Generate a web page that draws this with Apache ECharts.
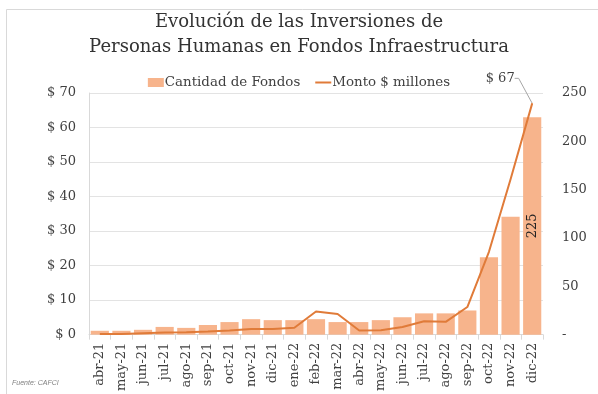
<!DOCTYPE html>
<html>
<head>
<meta charset="utf-8">
<script src="https://cdn.jsdelivr.net/npm/echarts@6/dist/echarts.min.js"></script>
<style>
  html, body { margin: 0; padding: 0; background: #fff; }
  #chart { width: 598px; height: 394px; }
</style>
</head>
<body>
<div id="chart"></div>
<script>
// Months covered
const months = ['abr-21','may-21','jun-21','jul-21','ago-21','sep-21','oct-21','nov-21','dic-21',
  'ene-22','feb-22','mar-22','abr-22','may-22','jun-22','jul-22','ago-22','sep-22','oct-22','nov-22','dic-22'];

// Number of funds (right axis)
const cantidadFondos = [4, 4, 5, 8, 7, 10, 13, 16, 15, 15, 16, 13, 13, 15, 18, 22, 22, 25, 80, 122, 225];

// Amount invested, $ millions (left axis)
const montoMillones = [0.2, 0.2, 0.4, 0.6, 0.7, 0.9, 1.2, 1.6, 1.6, 2.0, 6.7, 6.0, 1.2, 1.3, 2.2, 3.9, 3.7, 8.0, 24, 45, 67];

// Axis ticks
const leftTicks = { min: 0, max: 70, interval: 10 };
const rightTicks = { min: 0, max: 250, interval: 50 };

const serif = 'DejaVu Serif';
const textColor = '#404040';
const lineColor = '#E07B39';
const lastIdx = months.length - 1;

const chart = echarts.init(document.getElementById('chart'), null, { renderer: 'canvas' });

chart.setOption({
  animation: false,
  backgroundColor: '#fff',
  title: {
    text: 'Evolución de las Inversiones de\nPersonas Humanas en Fondos Infraestructura',
    left: 'center',
    top: 5,
    textStyle: { fontFamily: serif, fontSize: 18, fontWeight: 'normal', color: '#333', lineHeight: 25 }
  },
  legend: {
    top: 71,
    left: 'center',
    itemGap: 15,
    itemWidth: 16,
    itemHeight: 9,
    textStyle: { fontFamily: serif, fontSize: 13.4, color: textColor, padding: [0, 0, 0, -4] },
    data: [
      { name: 'Cantidad de Fondos', icon: 'rect' },
      { name: 'Monto $ millones', icon: 'path://M0,0 H16 V2 H0 Z' }
    ]
  },
  grid: { left: 89, right: 55, top: 93, bottom: 58 },
  xAxis: {
    type: 'category',
    data: months,
    axisLine: { show: true, lineStyle: { color: '#d9d9d9' } },
    axisTick: { show: true, length: 5, lineStyle: { color: '#d9d9d9' } },
    axisLabel: { rotate: 90, interval: 0, fontFamily: serif, fontSize: 13, color: textColor, margin: 8 }
  },
  yAxis: [
    {
      type: 'value',
      min: leftTicks.min, max: leftTicks.max, interval: leftTicks.interval,
      axisLine: { show: true, lineStyle: { color: '#d9d9d9' } },
      axisTick: { show: false },
      splitLine: { lineStyle: { color: '#e3e3e3' } },
      axisLabel: { fontFamily: serif, fontSize: 13, color: textColor, margin: 13, formatter: v => '$ ' + v }
    },
    {
      type: 'value',
      min: rightTicks.min, max: rightTicks.max, interval: rightTicks.interval,
      axisLine: { show: false },
      axisTick: { show: false },
      splitLine: { show: false },
      axisLabel: { fontFamily: serif, fontSize: 13, color: textColor, margin: 19, formatter: v => v === 0 ? '-' : String(v) }
    }
  ],
  series: [
    {
      name: 'Cantidad de Fondos',
      type: 'bar',
      yAxisIndex: 1,
      data: cantidadFondos.map((v, i) => i === lastIdx
        ? { value: v, label: { show: true, position: 'inside', rotate: 90, fontFamily: serif, fontSize: 13, color: '#222' } }
        : v),
      barCategoryGap: '16%',
      itemStyle: { color: '#F7B48C' },
      label: { show: false }
    },
    {
      name: 'Monto $ millones',
      type: 'line',
      yAxisIndex: 0,
      data: montoMillones.map((v, i) => i === lastIdx
        ? { value: v, symbol: 'circle', symbolSize: 1,
            label: { show: true, position: 'top', formatter: p => '$ ' + p.value, fontFamily: serif, fontSize: 13, color: textColor } }
        : { value: v, symbol: 'none' }),
      showSymbol: true,
      lineStyle: { color: lineColor, width: 2 },
      itemStyle: { color: lineColor },
      label: { show: false },
      labelLayout: p => p.dataIndex === lastIdx ? { dx: -32, dy: -13 } : {},
      labelLine: { show: true, length2: 4, lineStyle: { color: '#a6a6a6', width: 1 } }
    }
  ],
  graphic: [
    {
      type: 'rect',
      shape: { x: 6.5, y: 9.5, width: 700, height: 500 },
      style: { fill: 'none', stroke: '#d9d9d9', lineWidth: 1 },
      silent: true
    },
    {
      type: 'text',
      left: 12,
      top: 380,
      style: { text: 'Fuente: CAFCI', fontFamily: 'Liberation Sans', fontStyle: 'italic', fontSize: 7, fill: '#7f7f7f' }
    }
  ]
});
</script>
</body>
</html>
